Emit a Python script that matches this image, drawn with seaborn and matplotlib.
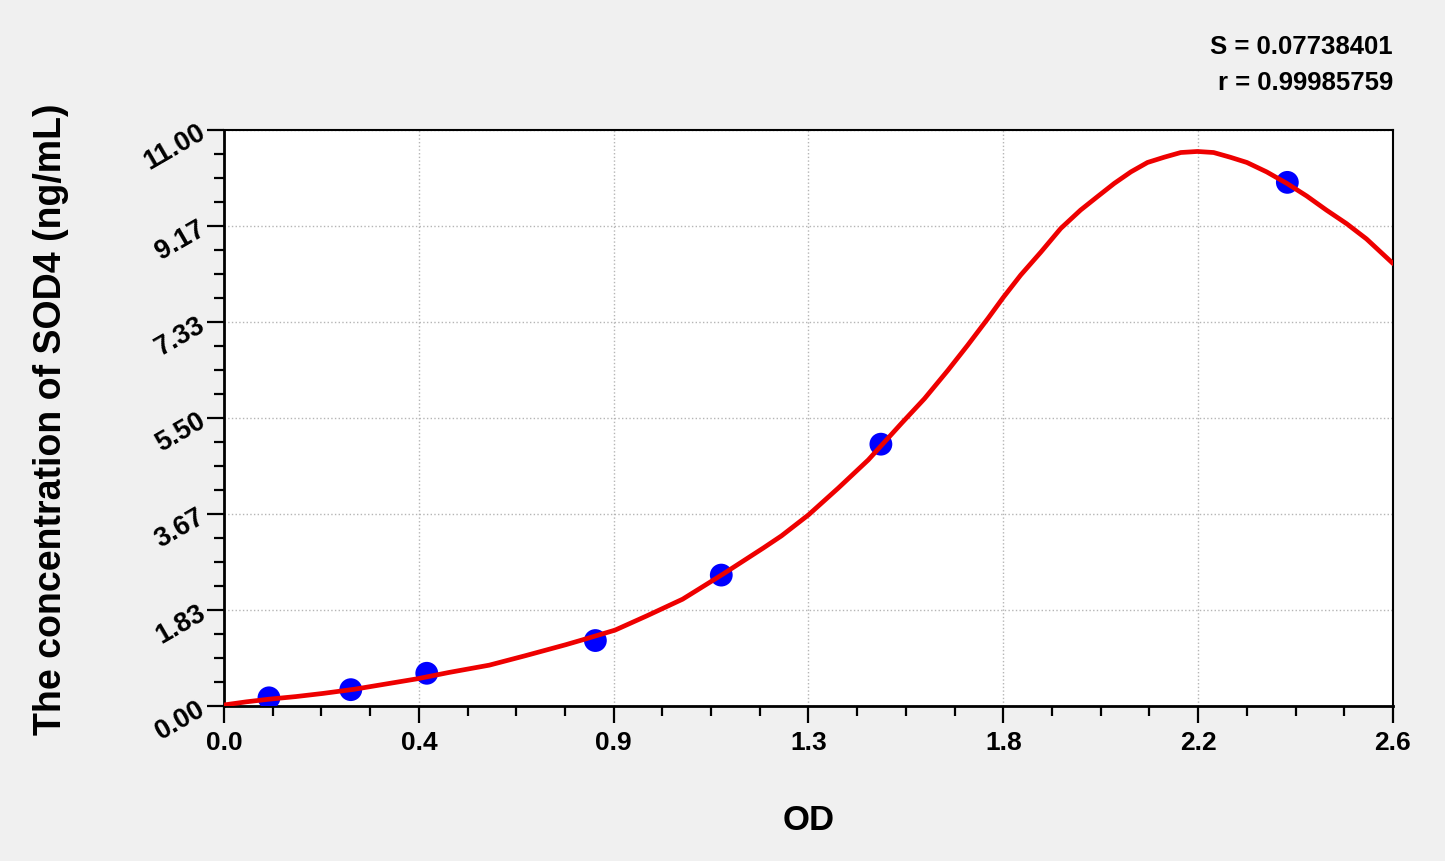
import numpy as np
import pandas as pd
import matplotlib
matplotlib.use("Agg")
import matplotlib.pyplot as plt
from matplotlib.ticker import AutoMinorLocator
import seaborn as sns

# standard points (OD, concentration)
std_od = [0.100, 0.282, 0.451, 0.826, 1.106, 1.461, 2.365]
std_conc = [0.156, 0.312, 0.625, 1.25, 2.5, 5.0, 10.0]

# fitted curve
curve_od = [0.00, 0.05, 0.10, 0.16, 0.22, 0.29, 0.36, 0.43, 0.50, 0.59, 0.67,
            0.76, 0.80, 0.87, 0.94, 1.02, 1.11, 1.20, 1.24, 1.30, 1.366, 1.433,
            1.470, 1.507, 1.558, 1.610, 1.654, 1.699, 1.733, 1.772, 1.817, 1.861,
            1.905, 1.943, 1.980, 2.017, 2.054, 2.091, 2.128, 2.165, 2.201, 2.238,
            2.275, 2.319, 2.364, 2.408, 2.452, 2.497, 2.541, 2.60]
curve_conc = [0.02, 0.08, 0.13, 0.18, 0.24, 0.32, 0.42, 0.52, 0.64, 0.78, 0.96,
              1.17, 1.27, 1.45, 1.72, 2.04, 2.52, 3.02, 3.25, 3.65, 4.16, 4.70,
              5.05, 5.40, 5.87, 6.41, 6.89, 7.40, 7.80, 8.23, 8.67, 9.12,
              9.47, 9.73, 9.98, 10.20, 10.38, 10.48, 10.57, 10.59, 10.57, 10.48,
              10.38, 10.20, 9.98, 9.74, 9.47, 9.21, 8.92, 8.45]

xtick_labels = ["0.0", "0.4", "0.9", "1.3", "1.8", "2.2", "2.6"]
ytick_labels = ["0.00", "1.83", "3.67", "5.50", "7.33", "9.17", "11.00"]
s_text = "S = 0.07738401"
r_text = "r = 0.99985759"

sns.set_style("white")
plt.rcParams["font.family"] = ["Liberation Sans", "DejaVu Sans"]
plt.rcParams["font.weight"] = "bold"
for k in ["text.color", "axes.labelcolor", "xtick.color", "ytick.color"]:
    plt.rcParams[k] = "black"

dtf_std = pd.DataFrame({"od": std_od, "conc": std_conc})
dtf_curve = pd.DataFrame({"od": curve_od, "conc": curve_conc})

fig = plt.figure(figsize=(14.45, 8.62), dpi=100)
fig.patch.set_facecolor("#f0f0f0")
ax = fig.add_axes([224/1445, 1-707/862, 1169/1445, 576/862])
ax.set_facecolor("white")

sns.scatterplot(data=dtf_std, x="od", y="conc", ax=ax, color="#0000ff",
                s=270, edgecolor="none", zorder=3)
sns.lineplot(data=dtf_curve, x="od", y="conc", ax=ax, color="#ee0000",
             linewidth=3.4, sort=False, zorder=4)

ax.set_xlim(0, 2.6)
ax.set_ylim(0, 11)
ax.set_xticks(np.linspace(0, 2.6, len(xtick_labels)))
ax.set_xticklabels(xtick_labels, fontsize=19, fontweight="bold")
ax.set_yticks(np.linspace(0, 11, len(ytick_labels)))
ax.set_yticklabels(ytick_labels, fontsize=19.5, fontweight="bold", rotation=30,
                   ha="right", va="center", rotation_mode="anchor")
ax.xaxis.set_minor_locator(AutoMinorLocator(4))
ax.yaxis.set_minor_locator(AutoMinorLocator(4))
ax.tick_params(which="both", bottom=True, left=True, top=False, right=False)
ax.tick_params(which="major", direction="out", length=12, width=1.6, color="black")
ax.tick_params(which="minor", direction="out", length=7, width=1.6, color="black")
ax.tick_params(axis="x", which="major", pad=5)
ax.tick_params(axis="y", which="major", pad=3)

ax.grid(True, which="major", linestyle=":", color="#b5b5b5", linewidth=1)
for side in ["left", "bottom"]:
    ax.spines[side].set_linewidth(2)
for side in ["top", "right"]:
    ax.spines[side].set_linewidth(1.5)
for sp in ax.spines.values():
    sp.set_color("black")

ax.set_xlabel("OD", fontsize=25, fontweight="bold")
ax.set_ylabel("The concentration of SOD4 (ng/mL)", fontsize=27, fontweight="bold")
ax.xaxis.set_label_coords(0.5, -0.168)
ax.yaxis.set_label_coords(-0.133, 0.5)

fig.text(1393/1445, 1-47/862, s_text, ha="right", va="center", fontsize=18.5, fontweight="bold")
fig.text(1393/1445, 1-83/862, r_text, ha="right", va="center", fontsize=18.5, fontweight="bold")

fig.savefig("out.png", dpi=100, facecolor=fig.get_facecolor())
